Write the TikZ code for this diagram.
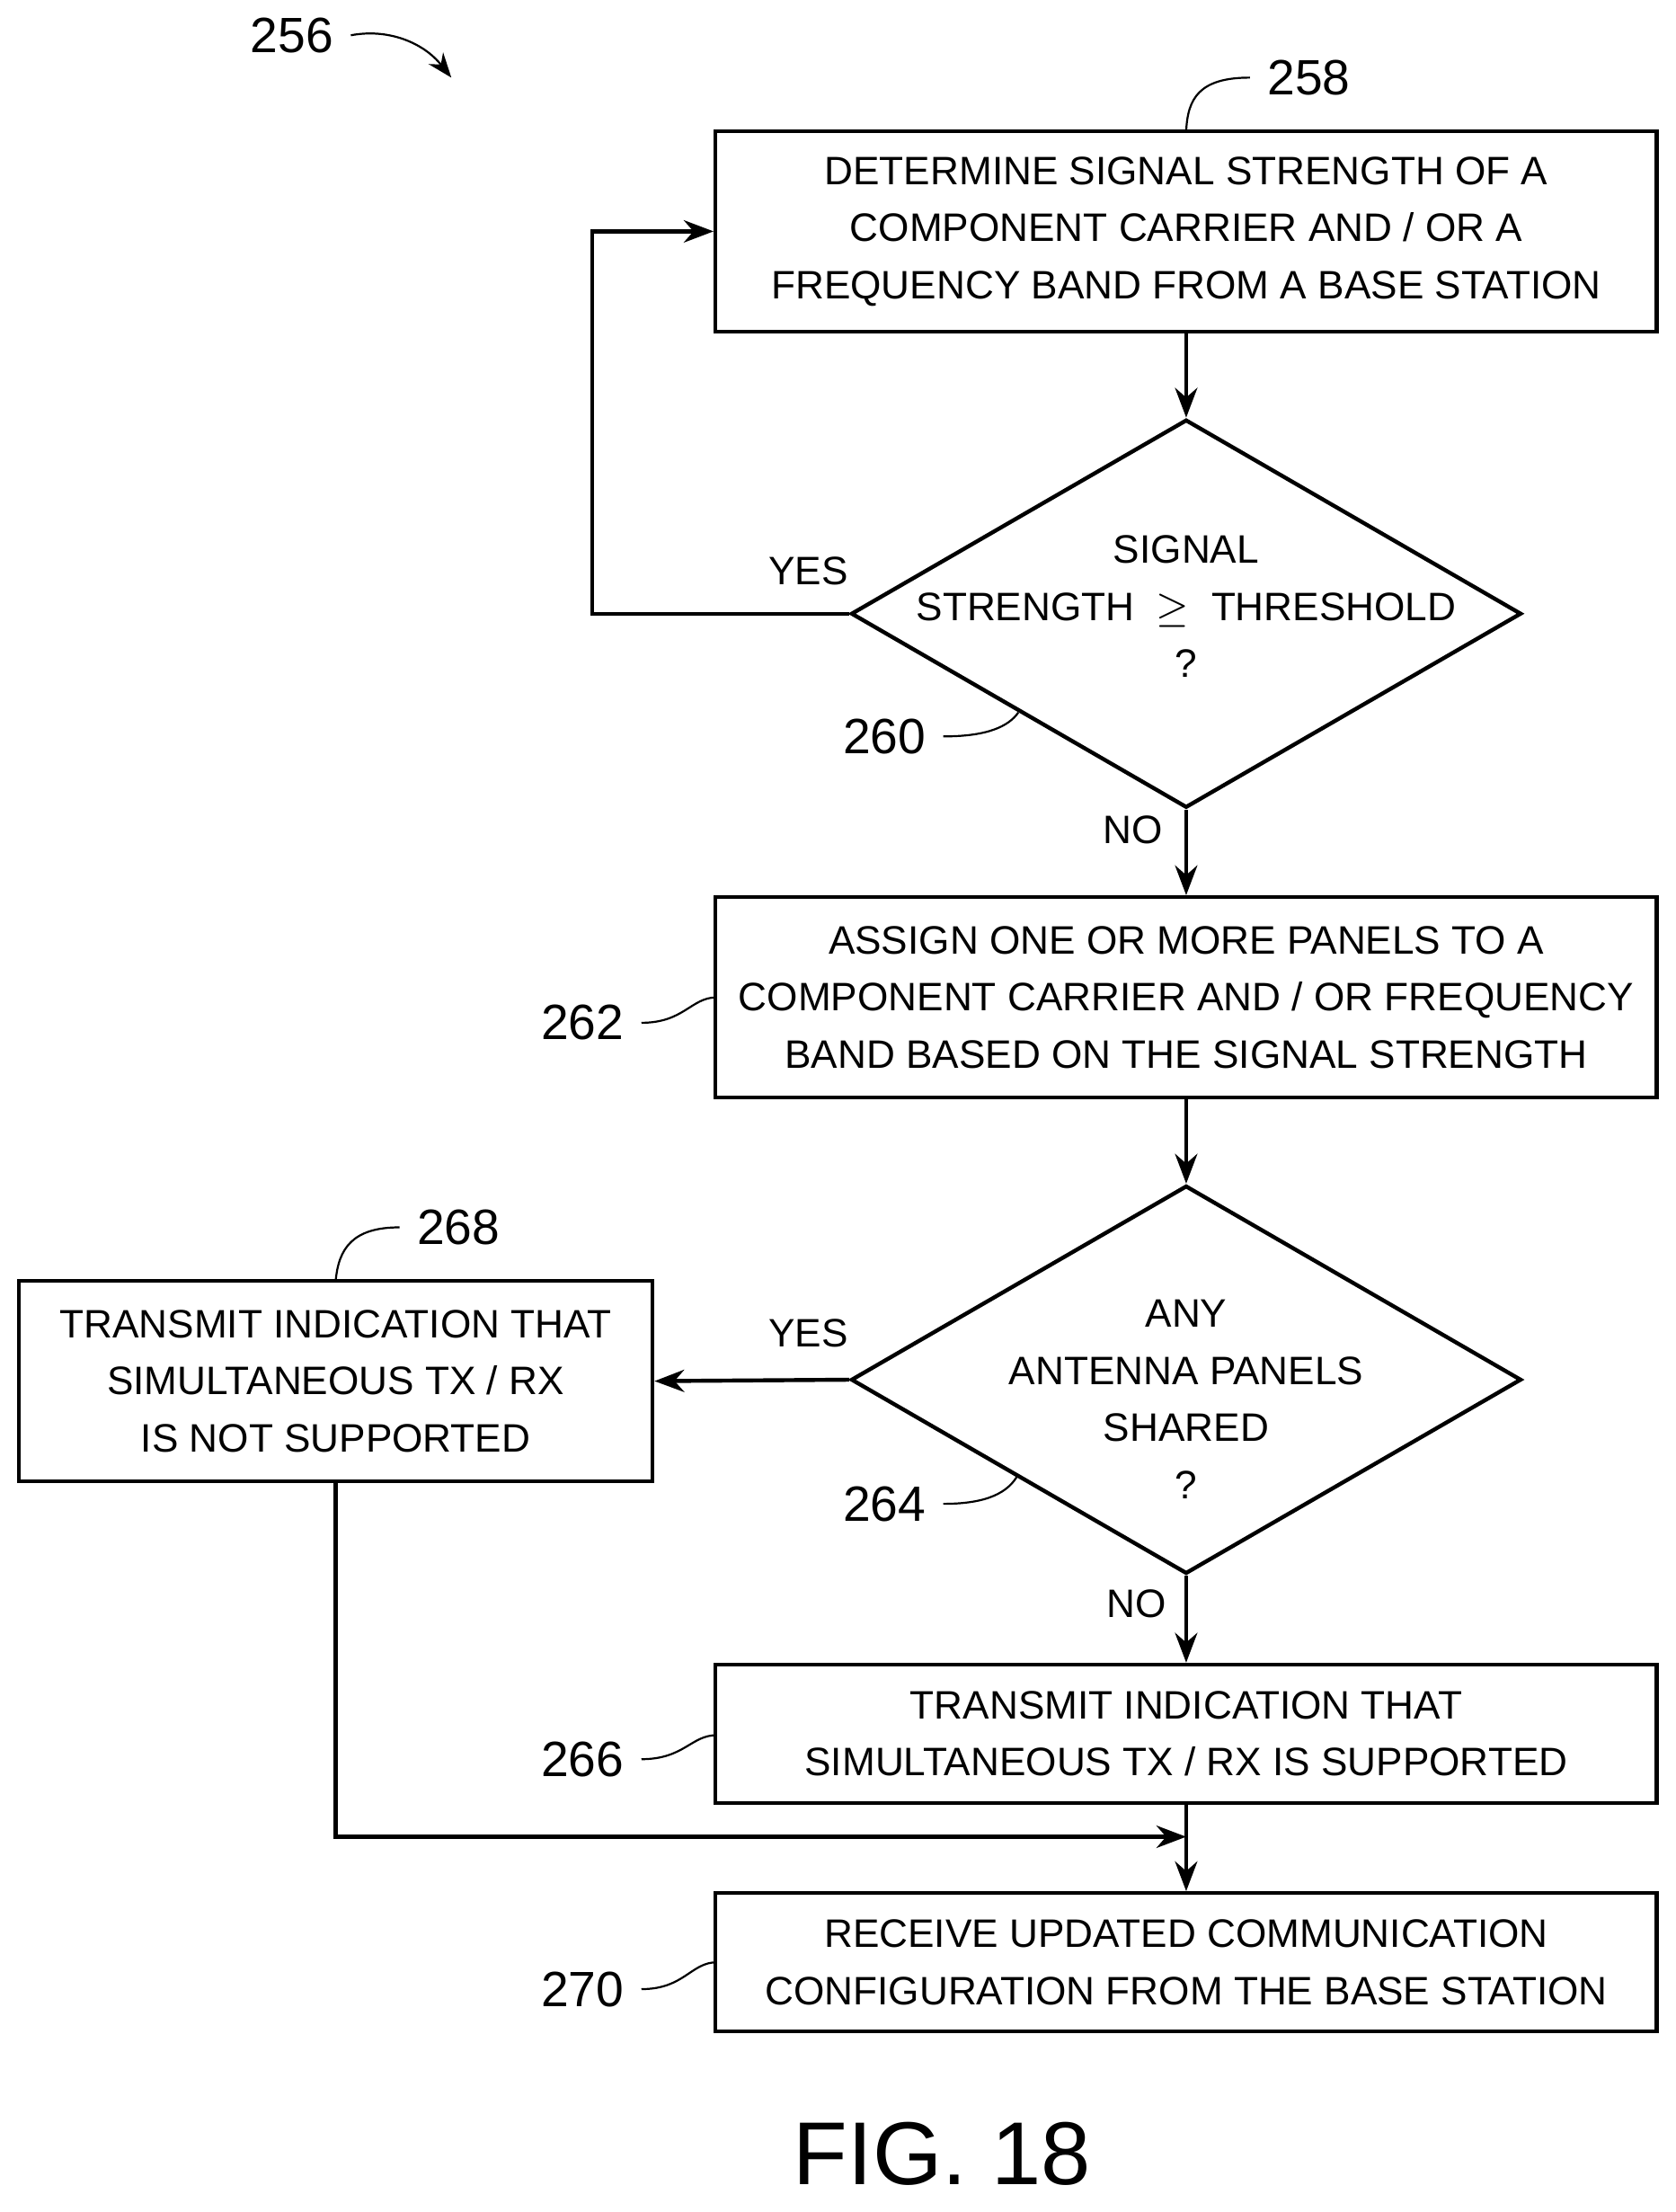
\documentclass[tikz,border=0pt]{standalone}
\usepackage{fontspec}
\setmainfont{Liberation Sans}
\usepackage{amssymb}
\usetikzlibrary{shapes.geometric,arrows.meta}
\tikzstyle{stepbox}=[draw, thick, minimum width=6.67cm, inner sep=0pt, align=center]
\tikzstyle{dia}=[draw, thick, diamond, minimum width=4.75cm, minimum height=2.75cm, inner sep=0pt]
\tikzstyle{txt}=[align=center, inner sep=0pt]
\tikzstyle{flow}=[thick, -{Stealth[length=6pt]}]
\tikzstyle{lead}=[thin]
\begin{document}
\begin{tikzpicture}[x=0.01cm, y=-0.01cm, font=\fontsize{8}{11.5}\selectfont]
		   \useasboundingbox (0,0) rectangle (1188,1568);
		   \begin{scope}
			   \node (258) at (841,164)[stepbox, minimum height=1.42cm] {DETERMINE SIGNAL STRENGTH OF A\\COMPONENT CARRIER AND / OR A\\FREQUENCY BAND FROM A BASE STATION};
			   \node (260) at (841,435)[dia] {};
			   \node (t260) at (841,430)[txt] {SIGNAL\\STRENGTH \ $\geq$ \ THRESHOLD\\?};
			   \node (262) at (841,707)[stepbox, minimum height=1.42cm] {ASSIGN ONE OR MORE PANELS TO A\\COMPONENT CARRIER AND / OR FREQUENCY\\BAND BASED ON THE SIGNAL STRENGTH};
			   \node (264) at (841,978)[dia] {};
			   \node (t264) at (841,992)[txt] {ANY\\ANTENNA PANELS\\SHARED\\?};
			   \node (268) at (238,979)[stepbox, minimum width=4.49cm, minimum height=1.42cm] {TRANSMIT INDICATION THAT\\SIMULTANEOUS TX / RX\\IS NOT SUPPORTED};
			   \node (266) at (841,1229)[stepbox, minimum height=0.98cm] {TRANSMIT INDICATION THAT\\SIMULTANEOUS TX / RX IS SUPPORTED};
			   \node (270) at (841,1391)[stepbox, minimum height=0.98cm] {RECEIVE UPDATED COMMUNICATION\\CONFIGURATION FROM THE BASE STATION};
			   \node (fig) at (668,1527) {\fontsize{18}{22}\selectfont FIG. 18};

			   \node (yes1) at (573,405) {YES};
			   \node (no1) at (803,588) {NO};
			   \node (yes2) at (573,945) {YES};
			   \node (no2) at (806,1137) {NO};

			   \node (l256) at (207,25) {\fontsize{10}{12}\selectfont 256};
			   \node (l258) at (928,55) {\fontsize{10}{12}\selectfont 258};
			   \node (l260) at (627,522) {\fontsize{10}{12}\selectfont 260};
			   \node (l262) at (413,725) {\fontsize{10}{12}\selectfont 262};
			   \node (l264) at (627,1066) {\fontsize{10}{12}\selectfont 264};
			   \node (l266) at (413,1247) {\fontsize{10}{12}\selectfont 266};
			   \node (l268) at (325,870) {\fontsize{10}{12}\selectfont 268};
			   \node (l270) at (413,1410) {\fontsize{10}{12}\selectfont 270};

			   \coordinate (loop) at (420,435);
			   \coordinate (ret) at (238,1302);
			   \coordinate (join) at (841,1302);
			   \coordinate (p256) at (320,55);
		   \end{scope}
		   \begin{scope}
			   \draw [flow] (258) -- (260.north);
			   \draw [flow] (260.south) -- (262);
			   \draw [flow] (262) -- (264.north);
			   \draw [flow] (264.south) -- (266);
			   \draw [flow] (266) -- (270);
			   \draw [flow] (260.west) -- (loop) |- (258.west);
			   \draw [flow] (264.west) -- (268.east);
			   \draw [flow] (268.south) -- (ret) -- (join);

			   \draw [lead, -{Stealth[length=5pt]}] (l256.east) .. controls (275,20) and (300,30) .. (p256);
			   \draw [lead] (l258.west) .. controls (850,55) and (842,70) .. (841,93);
			   \draw [lead] (l260.east) .. controls (700,522) and (715,515) .. (722,505);
			   \draw [lead] (l262.east) .. controls (485,725) and (490,707) .. (508,707);
			   \draw [lead] (l264.east) .. controls (700,1066) and (715,1058) .. (722,1045);
			   \draw [lead] (l266.east) .. controls (485,1247) and (490,1230) .. (508,1230);
			   \draw [lead] (l270.east) .. controls (485,1410) and (490,1391) .. (508,1391);
			   \draw [lead] (l268.west) .. controls (250,870) and (240,885) .. (238,908);
		   \end{scope}
	   \end{tikzpicture}
\end{document}
